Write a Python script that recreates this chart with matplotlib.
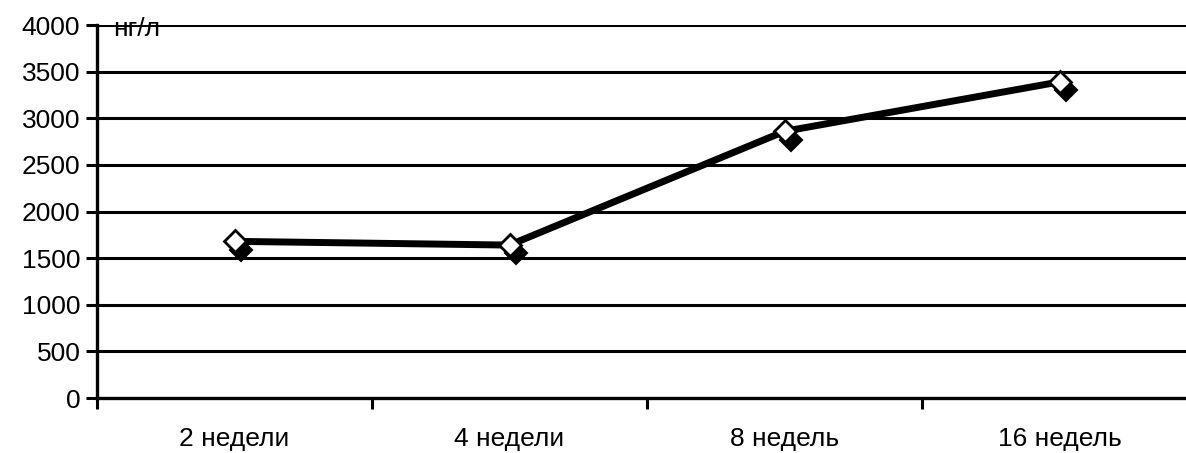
import matplotlib.pyplot as plt
import matplotlib.transforms as mtransforms

plt.rcParams['font.family'] = ['Liberation Sans', 'DejaVu Sans']

# concentration by study week, ng/l
weeks = ["2 недели", "4 недели", "8 недель", "16 недель"]
conc = [1680, 1640, 2860, 3390]
y_ticks = [0, 500, 1000, 1500, 2000, 2500, 3000, 3500, 4000]
unit = "нг/л"


def main():
    fig = plt.figure(figsize=(11.86, 4.53), dpi=100)
    # plot area runs a bit past the right edge of the figure
    ax = fig.add_axes([0.0818, 0.1214, 0.9275, 0.8234])

    x = list(range(len(weeks)))

    for v in y_ticks[1:]:
        ax.axhline(v, color="black", lw=2.2, zorder=1)

    ax.plot(x, conc, color="black", lw=5, zorder=2, solid_capstyle="butt")

    # dark shadow under each marker
    shift = mtransforms.ScaledTranslation(5 / 72, -6 / 72, fig.dpi_scale_trans)
    ax.plot(x, conc, ls="none", marker="D", ms=11, mfc="black", mec="black",
            mew=1.5, zorder=3, transform=ax.transData + shift)
    ax.plot(x, conc, ls="none", marker="D", ms=11, mfc="white", mec="black",
            mew=2, zorder=4)

    ax.set_xlim(-0.5, len(weeks) - 0.5)
    ax.set_ylim(0, 4000)
    ax.set_yticks(y_ticks)
    ax.set_yticklabels([str(v) for v in y_ticks], fontsize=19)

    ax.set_xticks(x)
    ax.set_xticklabels(weeks, fontsize=19)
    ax.set_xticks([i - 0.5 for i in range(len(weeks) + 1)], minor=True)
    ax.tick_params(axis="x", which="major", length=0, pad=21)
    ax.tick_params(axis="x", which="minor", length=8, width=2.2, direction="out")
    ax.tick_params(axis="y", length=8, width=2.2, direction="out", pad=4)

    for side in ["top", "right"]:
        ax.spines[side].set_visible(False)
    for side in ["left", "bottom"]:
        ax.spines[side].set_linewidth(2.4)

    ax.text(0.0145, 0.99, unit, transform=ax.transAxes, fontsize=19,
            ha="left", va="center", zorder=5)

    fig.savefig("out.png", dpi=100)


if __name__ == "__main__":
    main()
